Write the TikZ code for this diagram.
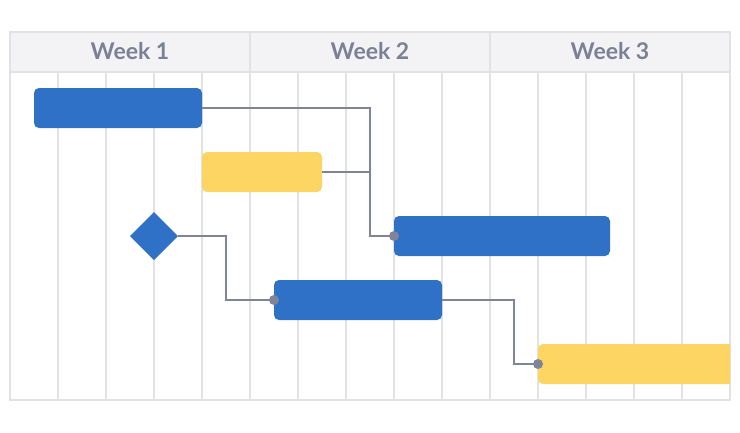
\documentclass[tikz,border=0pt]{standalone}
\usepackage{fontspec}
\setmainfont{Lato}
\usetikzlibrary{shapes.geometric}
\definecolor{taskblue}{HTML}{3071C8}
\definecolor{taskyellow}{HTML}{FDD562}
\definecolor{gridgray}{HTML}{E1E1E6}
\definecolor{headfill}{HTML}{F3F3F5}
\definecolor{linkgray}{HTML}{7F8498}
\definecolor{weektext}{HTML}{7A8196}
\tikzset{
  task/.style={rounded corners=5pt, minimum height=40pt, inner sep=0pt, outer sep=0pt, anchor=west},
  week/.style={font=\bfseries\fontsize{23}{26}\selectfont, text=weektext},
  link/.style={draw=linkgray, line width=1.5pt},
  gridline/.style={draw=gridgray, line width=1.3pt}
}
\begin{document}
\begin{tikzpicture}[x=1pt, y=-1pt]
  \useasboundingbox (0,0) rectangle (740,432);
  % grid and header
  \fill[headfill] (10,32) rectangle (730,72);
  \foreach \x in {58,106,...,730} {
    \draw[gridline] (\x,72) -- (\x,400);
  }
  \draw[gridline] (250,32) -- (250,72) (490,32) -- (490,72);
  \draw[gridline] (10,72) -- (730,72);
  \draw[gridline] (10,32) rectangle (730,400);
  \node[week] (w1) at (130,51) {Week 1};
  \node[week] (w2) at (370,51) {Week 2};
  \node[week] (w3) at (610,51) {Week 3};
  % tasks
  \node[task, fill=taskblue, minimum width=168pt] (a) at (34,108) {};
  \node[task, fill=taskyellow, minimum width=120pt] (b) at (202,172) {};
  \node[task, fill=taskblue, minimum width=216pt] (c) at (394,236) {};
  \node[diamond, fill=taskblue, minimum size=48pt, inner sep=0pt, outer sep=0pt] (m) at (154,236) {};
  \node[task, fill=taskblue, minimum width=168pt] (d) at (274,300) {};
  \begin{scope}
    \clip (10,32) rectangle (730,400);
    \node[task, fill=taskyellow, minimum width=200pt] (e) at (538,364) {};
  \end{scope}
  % links
  \coordinate (ac) at (370,236);
  \coordinate (md) at (226,300);
  \coordinate (de) at (514,364);
  \begin{scope}[link]
    \draw (a.east) -| (ac) -- (c.west);
    \draw (b.east) -- (b.east -| ac);
    \draw (m.east) -| (md) -- (d.west);
    \draw (d.east) -| (de) -- (e.west);
  \end{scope}
  \fill[linkgray] (c.west) circle (5pt) (d.west) circle (5pt) (e.west) circle (5pt);
\end{tikzpicture}
\end{document}
